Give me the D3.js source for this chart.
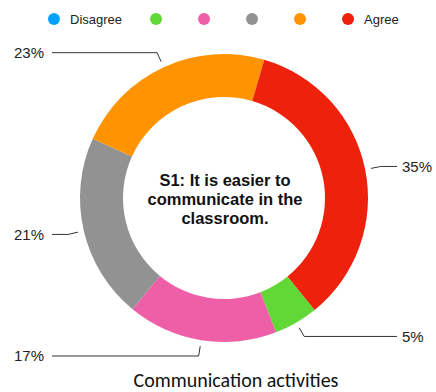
<!DOCTYPE html>
<html><head><meta charset="utf-8">
<script src="https://cdn.jsdelivr.net/npm/d3@7"></script>
<style>html,body{margin:0;padding:0;background:#fff;}svg{display:block;}</style>
</head><body>
<svg id="chart" width="436" height="392"></svg>
<script>
const categories = ["Disagree", "", "", "", "", "Agree"];
const values = [0, 5, 17, 21, 23, 35];
const valueLabels = ["0%", "5%", "17%", "21%", "23%", "35%"];
const colors = ["#00A2FF", "#61D836", "#EF5FA7", "#929292", "#FF9300", "#EE220C"];
const centerLines = ["S1: It is easier to", "communicate in the", "classroom."];
const title = "Communication activities";

const svg = d3.select("#chart");
const W = 436, H = 392;
const cx = 224, cy = 198, R = 144, r = 101;

// Legend
const legend = svg.append("g");
let lx = 54;
categories.forEach((c, i) => {
  legend.append("circle").attr("cx", lx).attr("cy", 19).attr("r", 6).attr("fill", colors[i]);
  let w = 0;
  if (c) {
    const t = legend.append("text").attr("x", lx + 16).attr("y", 23.5)
      .attr("font-family", "Liberation Sans, Arial, sans-serif").attr("font-size", 13)
      .attr("fill", "#222").text(c);
    w = t.node().getComputedTextLength() + 2;
  }
  lx += 48 + w;
});

// Donut
const start = 141 * Math.PI / 180;
const pie = d3.pie().sort(null).value(d => d).startAngle(start).endAngle(start + 2 * Math.PI);
const arcs = pie(values);
const arc = d3.arc().innerRadius(r).outerRadius(R);
const g = svg.append("g").attr("transform", `translate(${cx},${cy})`);
g.selectAll("path").data(arcs).enter().append("path")
  .attr("d", arc).attr("fill", (d, i) => colors[i]);

// Leader lines and labels
const lines = svg.append("g");
arcs.forEach((a, i) => {
  if (values[i] === 0) return;
  const m = (a.startAngle + a.endAngle) / 2;
  const p1 = [cx + 150 * Math.sin(m), cy - 150 * Math.cos(m)];
  const p2 = [cx + 160 * Math.sin(m), cy - 160 * Math.cos(m)];
  const right = Math.sin(m) > 0;
  const xEnd = right ? 397 : 52;
  lines.append("path")
    .attr("d", d3.line()([p1, p2, [xEnd, p2[1]]]))
    .attr("fill", "none").attr("stroke", "#333").attr("stroke-width", 1);
  lines.append("text")
    .attr("x", right ? 402 : 44).attr("y", p2[1] + 5.5)
    .attr("text-anchor", right ? "start" : "end")
    .attr("font-family", "Liberation Sans, Arial, sans-serif").attr("font-size", 15)
    .attr("fill", "#222").text(valueLabels[i]);
});

// Center text
const ct = svg.append("text").attr("text-anchor", "middle")
  .attr("font-family", "Liberation Sans, Arial, sans-serif").attr("font-weight", "bold")
  .attr("font-size", 16.5).attr("fill", "#111");
centerLines.forEach((l, i) => {
  ct.append("tspan").attr("x", cx + 1).attr("y", 186 + i * 19).text(l);
});

// Title
svg.append("text").attr("x", 236).attr("y", 387).attr("text-anchor", "middle")
  .attr("font-family", "Carlito, Lato, sans-serif").attr("font-size", 20)
  .attr("fill", "#111").text(title);
</script>
</body></html>
